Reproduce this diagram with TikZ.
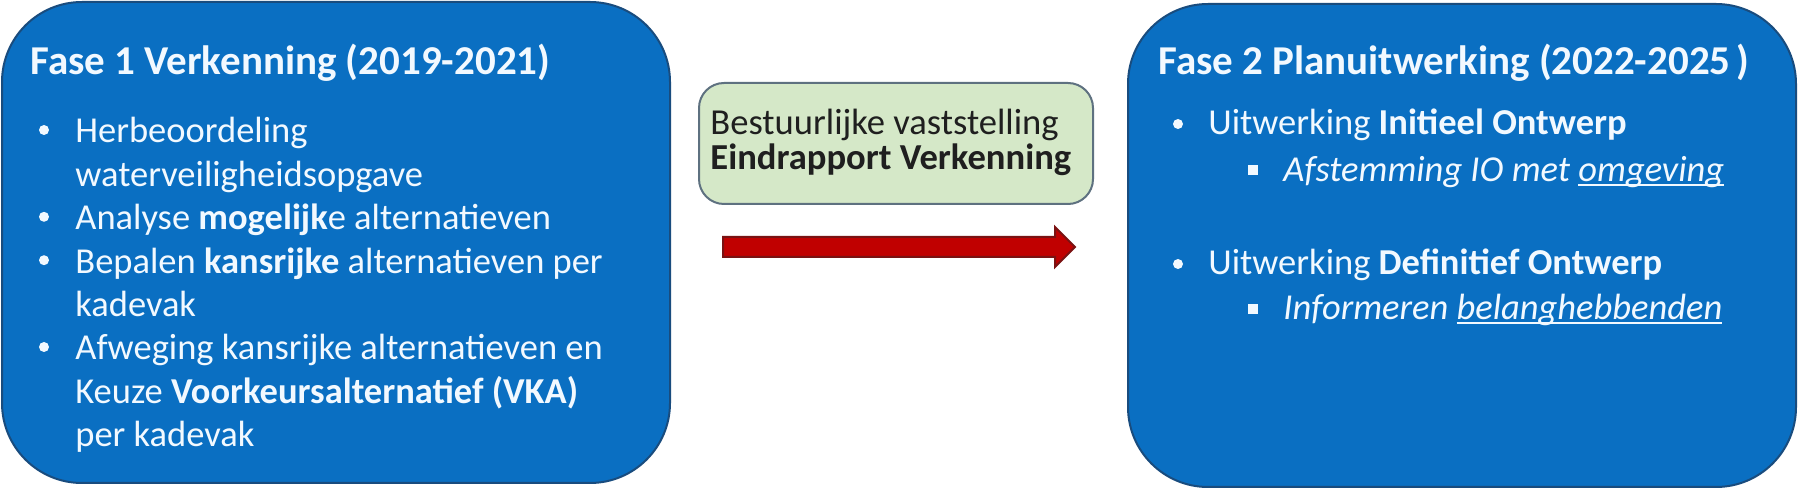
\documentclass[tikz,border=0pt]{standalone}
\usepackage{fontspec}
\setmainfont{Carlito}
\definecolor{boxblue}{HTML}{0A6FC2}
\definecolor{boxedge}{HTML}{194C7E}
\definecolor{txtwhite}{HTML}{F2F9FF}
\definecolor{greenfill}{HTML}{D5E8C8}
\definecolor{greenedge}{HTML}{5E7180}
\definecolor{arrowred}{HTML}{C00000}
\definecolor{arrowedge}{HTML}{7A1212}
\newcommand\myul[1]{\setbox0\hbox{#1}\rlap{\rule[-0.11em]{\wd0}{0.055em}}\box0}
\tikzset{
  bluebox/.style={draw=boxedge, line width=1pt, fill=boxblue, rounded corners=40pt, inner sep=0pt},
  greenbox/.style={draw=greenedge, line width=1pt, fill=greenfill, rounded corners=12.5pt, inner sep=0pt,
                   minimum width=197pt, minimum height=60.5pt},
  titletxt/.style={anchor=base west, inner sep=0pt, text=txtwhite, font=\fontsize{20.5pt}{24pt}\selectfont\bfseries},
  bodytxt/.style={anchor=base west, inner sep=0pt, text=txtwhite, font=\fontsize{18.25pt}{22pt}\selectfont},
  subtxt/.style={anchor=base west, inner sep=0pt, text=txtwhite, font=\fontsize{18.25pt}{22pt}\selectfont\itshape},
  greentxt/.style={anchor=base west, inner sep=0pt, text=black!88, font=\fontsize{18.3pt}{22pt}\selectfont},
  dot/.style={circle, fill=txtwhite, inner sep=0pt, minimum size=5pt},
  sq/.style={rectangle, fill=txtwhite, inner sep=0pt, minimum size=5pt},
}
\begin{document}
\begin{tikzpicture}[x=0.5pt,y=-0.5pt]
\useasboundingbox[fill=white] (0,0) rectangle (1800,491);

% Fase 1 box
\node[bluebox, minimum width=334pt, minimum height=240.5pt] (f1) at (336,242.5) {};
\node[titletxt] (t1) at (30,75) {Fase 1 Verkenning (2019-2021)};
\node[dot] (b1) at (44,130) {};
\node[bodytxt] (l0) at (75,143) {Herbeoordeling};
\node[bodytxt] (l1) at (75,186.4) {waterveiligheidsopgave};
\node[dot] (b2) at (44,216.8) {};
\node[bodytxt] (l2) at (75,229.8) {Analyse \textbf{mogelijk}e alternatieven};
\node[dot] (b3) at (44,260.2) {};
\node[bodytxt] (l3) at (75,273.2) {Bepalen \textbf{kansrijke} alternatieven per};
\node[bodytxt] (l4) at (75,316.6) {kadevak};
\node[dot] (b4) at (44,347) {};
\node[bodytxt] (l5) at (75,360) {Afweging kansrijke alternatieven en};
\node[bodytxt] (l6) at (75,403.4) {Keuze \textbf{Voorkeursalternatief (VKA)}};
\node[bodytxt] (l7) at (75,446.8) {per kadevak};

% middle
\node[greenbox] (g) at (896,143.5) {};
\node[greentxt] (g1) at (710,135) {Bestuurlijke vaststelling};
\node[greentxt] (g2) at (710,170) {\bfseries Eindrapport Verkenning};

\coordinate (arrS) at (723,247);
\coordinate (arrE) at (1075,247);
\draw[fill=arrowred, draw=arrowedge, line width=1pt, line join=miter]
  ([yshift=5pt]arrS) -- ([xshift=-10pt,yshift=5pt]arrE) -- ([xshift=-10pt,yshift=10pt]arrE)
  -- (arrE) -- ([xshift=-10pt,yshift=-10pt]arrE) -- ([xshift=-10pt,yshift=-5pt]arrE)
  -- ([yshift=-5pt]arrS) -- cycle;

% Fase 2 box
\node[bluebox, minimum width=334pt, minimum height=241.5pt] (f2) at (1462,245.5) {};
\node[titletxt] (t2) at (1158,75) {Fase 2 Planuitwerking (2022-2025\kern3pt)};
\node[dot] (c1) at (1178,124) {};
\node[bodytxt] (r1) at (1208,135) {Uitwerking \textbf{Initieel Ontwerp}};
\node[sq] (s1) at (1253,170) {};
\node[subtxt] (r2) at (1283,182) {Afstemming IO met \myul{omgeving}};
\node[dot] (c2) at (1178,264) {};
\node[bodytxt] (r3) at (1208,275) {Uitwerking \textbf{Definitief Ontwerp}};
\node[sq] (s2) at (1253,309) {};
\node[subtxt] (r4) at (1283,320) {Informeren \myul{belanghebbenden}};
\end{tikzpicture}
\end{document}
